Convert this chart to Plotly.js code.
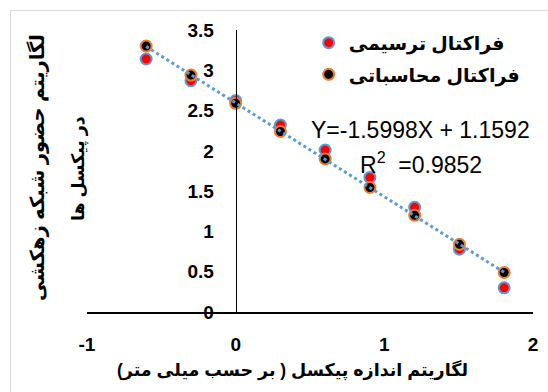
<!DOCTYPE html>
<html>
<head>
<meta charset="utf-8">
<script src="https://cdn.plot.ly/plotly-3.0.1.min.js"></script>
<style>
  html, body { margin: 0; padding: 0; background: #ffffff; }
  #frame { position: absolute; left: 10px; top: 10px; width: 600px; height: 500px; border: 1px solid #d9d9d9; box-sizing: border-box; }
  #chart { position: absolute; left: 0; top: 0; width: 548px; height: 392px; }
</style>
</head>
<body>
<div id="frame"></div>
<div id="chart"></div>
<script>
// ---- data ----
const logPixelSize = [-0.602, -0.301, 0, 0.301, 0.602, 0.903, 1.204, 1.505, 1.806];
const graphicalFractal = [3.14, 2.87, 2.625, 2.32, 2.01, 1.67, 1.30, 0.78, 0.30];
const computedFractal = [3.30, 2.94, 2.59, 2.24, 1.90, 1.545, 1.20, 0.84, 0.49];
const seriesNames = ['فراکتال ترسیمی', 'فراکتال محاسباتی'];
const xTickVals = [-1, 0, 1, 2];
const xTickText = ['-1', '0', '1', '2'];
const yTickVals = [0, 0.5, 1, 1.5, 2, 2.5, 3, 3.5];
const yTickText = ['0', '0.5', '1', '1.5', '2', '2.5', '3', '3.5'];
const equationText = 'Y=-1.5998X + 1.1592';
const r2Text = 'R<sup>2</sup>  =0.9852';
const xTitle = 'لگاریتم اندازه پیکسل ( بر حسب میلی متر)';
const yTitleLine1 = 'لگاریتم حضور شبکه زهکشی';
const yTitleLine2 = 'در پیکسل ها';

// linear trend (least squares) of computed series
function linFit(xs, ys) {
  const n = xs.length;
  const mx = xs.reduce((a, b) => a + b, 0) / n;
  const my = ys.reduce((a, b) => a + b, 0) / n;
  let sxy = 0, sxx = 0;
  for (let i = 0; i < n; i++) { sxy += (xs[i] - mx) * (ys[i] - my); sxx += (xs[i] - mx) ** 2; }
  const m = sxy / sxx;
  return { m: m, b: my - m * mx };
}
const fit = linFit(logPixelSize, computedFractal);
const trendX = [Math.min(...logPixelSize), Math.max(...logPixelSize)];
const trendY = trendX.map(x => fit.m * x + fit.b);

const FONT = 'Liberation Sans, DejaVu Sans, sans-serif';

const traces = [
  {
    x: logPixelSize, y: graphicalFractal, name: seriesNames[0],
    type: 'scatter', mode: 'markers', legendgroup: 'a',
    marker: { color: '#FF0000', size: 11, line: { color: '#5B9BD5', width: 2 } }
  },
  {
    x: logPixelSize, y: computedFractal, name: seriesNames[1],
    type: 'scatter', mode: 'markers', legendgroup: 'b',
    marker: { color: '#000000', size: 11, line: { color: '#ED7D31', width: 2 } }
  },
  {
    x: trendX, y: trendY, type: 'scatter', mode: 'lines', showlegend: false,
    line: { color: '#5B9BD5', width: 3, dash: 'dot' }, hoverinfo: 'skip'
  }
];

const layout = {
  width: 548, height: 392,
  margin: { l: 87, r: 15, t: 30, b: 80 },
  paper_bgcolor: 'rgba(0,0,0,0)',
  plot_bgcolor: 'rgba(0,0,0,0)',
  font: { family: FONT, color: '#000000' },
  showlegend: true,
  legend: {
    x: 0.497, y: 1.022, xanchor: 'left', yanchor: 'top',
    traceorder: 'grouped', tracegroupgap: 4,
    font: { family: FONT, size: 19, weight: 'bold', color: '#000000' },
    bgcolor: 'rgba(0,0,0,0)'
  },
  xaxis: {
    range: [-1, 2], tickvals: xTickVals, ticktext: xTickText,
    showgrid: false, zeroline: false, showline: true, linecolor: '#000000', linewidth: 1.5,
    ticks: '', ticklabelstandoff: 15, automargin: false,
    tickfont: { family: FONT, size: 19, weight: 'bold', color: '#000000' }
  },
  yaxis: {
    range: [0, 3.5], tickvals: yTickVals, ticktext: yTickText,
    anchor: 'free', position: 1 / 3, automargin: false,
    showgrid: false, zeroline: false, showline: true, linecolor: '#000000', linewidth: 1.5,
    ticks: '', ticklabelstandoff: 18,
    tickfont: { family: FONT, size: 19, weight: 'bold', color: '#000000' }
  },
  annotations: [
    { xref: 'paper', yref: 'paper', x: (420 - 87) / 446, y: (312 - 130) / 282, text: equationText,
      showarrow: false, xanchor: 'center', yanchor: 'middle',
      font: { family: FONT, size: 23, color: '#000000' } },
    { xref: 'paper', yref: 'paper', x: (421 - 87) / 446, y: (312 - 163) / 282, text: r2Text,
      showarrow: false, xanchor: 'center', yanchor: 'middle',
      font: { family: FONT, size: 23, color: '#000000' } },
    { xref: 'paper', yref: 'paper', x: (292 - 87) / 446, y: (312 - 370) / 282, text: xTitle,
      showarrow: false, xanchor: 'center', yanchor: 'middle',
      font: { family: FONT, size: 17.5, weight: 'bold', color: '#000000' } },
    { xref: 'paper', yref: 'paper', x: (37 - 87) / 446, y: (312 - 168) / 282, text: yTitleLine1,
      showarrow: false, xanchor: 'center', yanchor: 'middle', textangle: -90,
      font: { family: FONT, size: 19.5, weight: 'bold', color: '#000000' } },
    { xref: 'paper', yref: 'paper', x: (78 - 87) / 446, y: (312 - 169) / 282, text: yTitleLine2,
      showarrow: false, xanchor: 'center', yanchor: 'middle', textangle: -90,
      font: { family: FONT, size: 17.5, weight: 'bold', color: '#000000' } }
  ]
};

Plotly.newPlot('chart', traces, layout, { displayModeBar: false, staticPlot: true });
</script>
</body>
</html>
